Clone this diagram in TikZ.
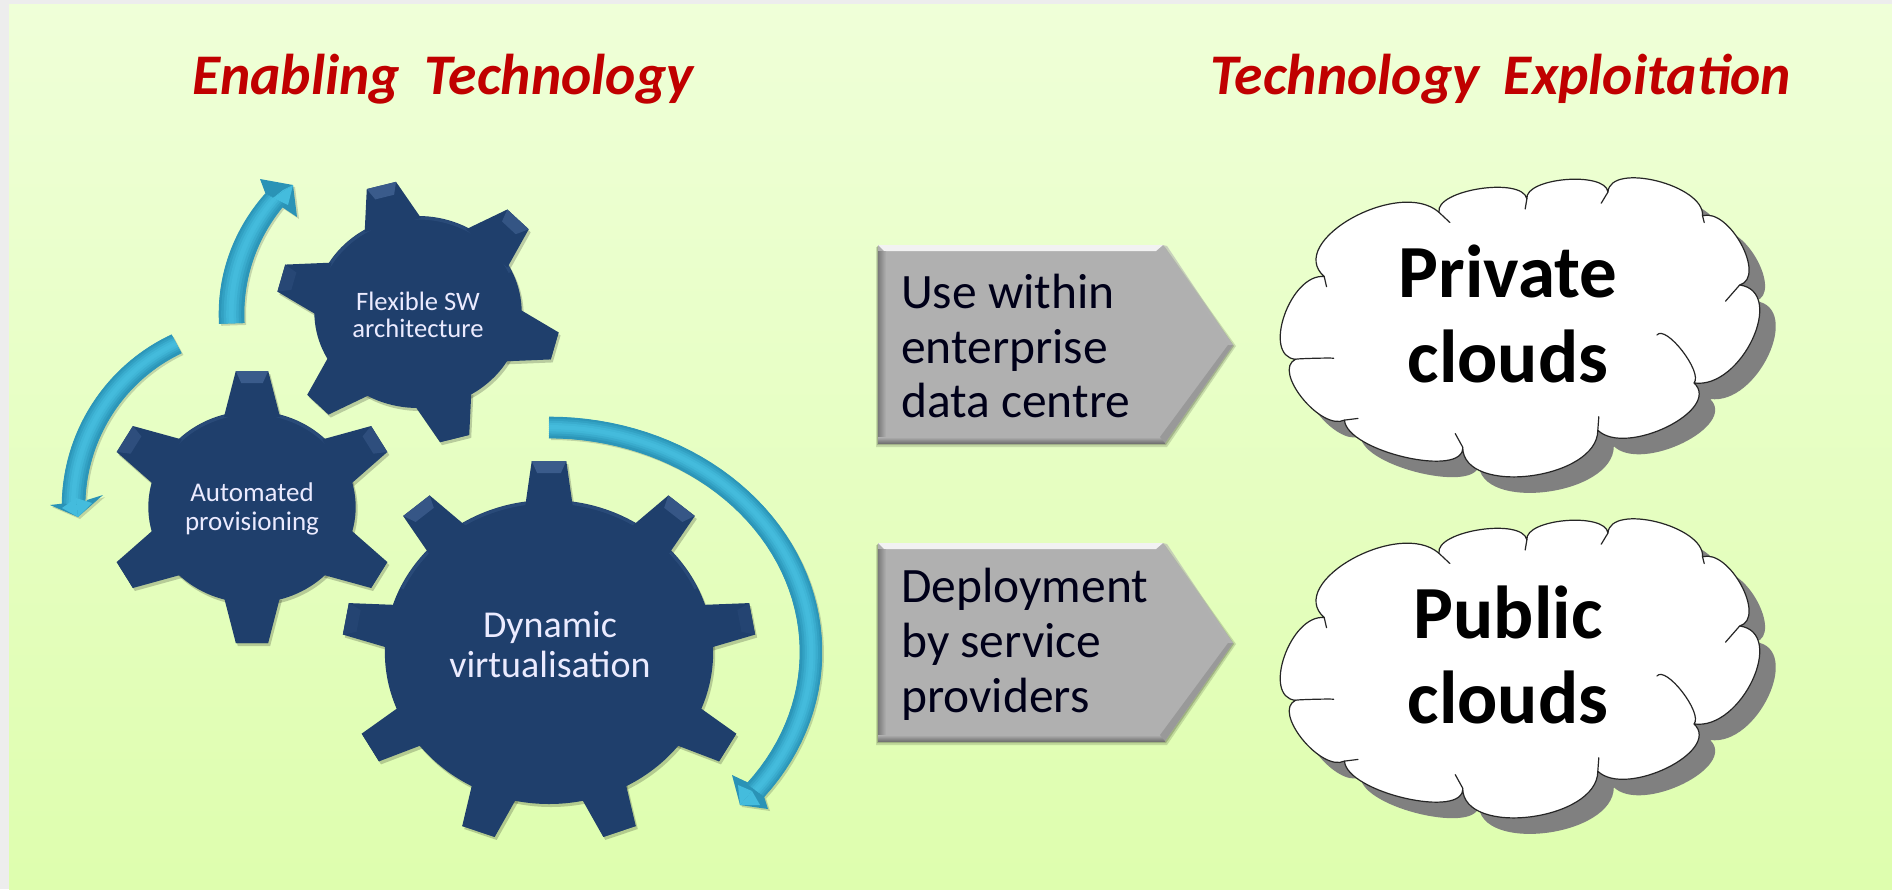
\documentclass[tikz,border=0pt]{standalone}
\usepackage{fontspec}
\setmainfont{Carlito}
\usetikzlibrary{calc}
\definecolor{gearblue}{HTML}{1F3F6C}
\definecolor{gearlight}{HTML}{3A5B8B}
\definecolor{geardark}{HTML}{1A355E}
\definecolor{arrowteal}{HTML}{2A93B6}
\definecolor{teallight}{HTML}{44BCDD}
\definecolor{titlered}{HTML}{C00000}
\definecolor{pentagray}{HTML}{B0B0B0}
\definecolor{cloudshadow}{HTML}{808080}
\definecolor{bgtop}{HTML}{EFFFD8}
\definecolor{bgbot}{HTML}{DEFEAE}
\newcommand{\pxfont}[2]{\fontsize{#1}{#2}\selectfont}
\newcommand{\wsp}{\hspace{0.2em}}
\tikzset{
  titletext/.style={text=titlered,font=\pxfont{57.5}{60}\bfseries\itshape,inner sep=0pt},
  geartext/.style={text=white!92!blue,align=center,inner sep=0pt},
  pentatext/.style={text=black!90!blue,align=left,anchor=west,inner sep=0pt,font=\pxfont{49.5}{54.8}},
  cloudtext/.style={text=black,align=center,inner sep=0pt,font=\pxfont{75}{85}\bfseries},
  cloudline/.style={draw=black!85,line width=1.2pt},
}
\newcommand{\gearteeth}[8]{%
  \pgfmathsetmacro{\gst}{360/#5}%
  \pgfmathtruncatemacro{\gnn}{#5-1}%
  \foreach \gk in {0,...,\gnn}{%
    \pgfmathsetmacro{\ga}{#6-\gk*\gst}%
    \pgfmathsetmacro{\gbase}{#3-6}%
    \fill[#8] ({#1+\gsx*(\gbase*cos(\ga)+#7*sin(\ga))},{#2-\gbase*sin(\ga)+#7*cos(\ga)})
      -- ({#1+\gsx*(#4*cos(\ga)+\tiphalf*sin(\ga))},{#2-#4*sin(\ga)+\tiphalf*cos(\ga)})
      -- ({#1+\gsx*(#4*cos(\ga)-\tiphalf*sin(\ga))},{#2-#4*sin(\ga)-\tiphalf*cos(\ga)})
      -- ({#1+\gsx*(\gbase*cos(\ga)-#7*sin(\ga))},{#2-\gbase*sin(\ga)-#7*cos(\ga)}) -- cycle;
  }%
}
\newcommand{\gearbevel}[7]{%
  \pgfmathsetmacro{\gst}{360/#5}%
  \pgfmathtruncatemacro{\gnn}{#5-1}%
  \foreach \gk in {0,...,\gnn}{%
    \pgfmathsetmacro{\ga}{#6-\gk*\gst}%
    \pgfmathtruncatemacro{\gm}{max(0,min(100,110*sin(\ga)))}%
    \pgfmathsetmacro{\gri}{#4-12}%
    \pgfmathsetmacro{\gwi}{\tiphalf-5}%
    \fill[gearlight!\gm!gearblue] ({#1+\gsx*(\gri*cos(\ga)+\gwi*sin(\ga))},{#2-\gri*sin(\ga)+\gwi*cos(\ga)})
      -- ({#1+\gsx*(#4*cos(\ga)+\tiphalf*sin(\ga))},{#2-#4*sin(\ga)+\tiphalf*cos(\ga)})
      -- ({#1+\gsx*(#4*cos(\ga)-\tiphalf*sin(\ga))},{#2-#4*sin(\ga)-\tiphalf*cos(\ga)})
      -- ({#1+\gsx*(\gri*cos(\ga)-\gwi*sin(\ga))},{#2-\gri*sin(\ga)-\gwi*cos(\ga)}) -- cycle;
  }%
}
\newcommand{\drawgear}[8]{%
  \def\tiphalf{#8}%
  \def\gsx{1.08}%
  \begin{scope}[shift={(2,3)},opacity=.2]
    \fill[black] (#1,#2) ellipse[x radius={1.08*(#3)},y radius=#3];
    \gearteeth{#1}{#2}{#3}{#4}{#5}{#6}{#7}{black}
  \end{scope}
  \fill[gearblue] (#1,#2) ellipse[x radius={1.08*(#3)},y radius=#3];
  \draw[gearlight,line width=3pt,opacity=.4] ({#1+1.08*(#3-2)*cos(25)},{#2-(#3-2)*sin(25)}) arc[start angle=-25,end angle=-155,x radius={1.08*(#3-2)},y radius={#3-2}];
  \gearteeth{#1}{#2}{#3}{#4}{#5}{#6}{#7}{gearblue}
  \gearbevel{#1}{#2}{#3}{#4}{#5}{#6}{#7}
}
\newcommand{\lobe}[6]{.. controls ({(#1)/3+4*(#3)/3-2*(#5)/3},{(#2)/3+4*(#4)/3-2*(#6)/3}) and ({(#5)/3+4*(#3)/3-2*(#1)/3},{(#6)/3+4*(#4)/3-2*(#2)/3}) .. (#5,#6)}
\newcommand{\cloudoutline}{(190,345)
  \lobe{190}{345}{272}{172}{530}{155}
  \lobe{530}{155}{650}{85}{790}{115}
  \lobe{790}{115}{905}{58}{1030}{95}
  \lobe{1030}{95}{1175}{62}{1310}{165}
  \lobe{1310}{165}{1425}{250}{1420}{370}
  \lobe{1420}{370}{1458}{530}{1285}{660}
  \lobe{1285}{660}{1205}{790}{1000}{800}
  \lobe{1000}{800}{800}{935}{600}{850}
  \lobe{600}{850}{430}{880}{250}{770}
  \lobe{250}{770}{125}{705}{105}{590}
  \lobe{105}{590}{72}{460}{190}{345} -- cycle}
\newcommand{\drawcloud}[2]{%
  \begin{scope}[shift={(#1+16,#2+16)},x=0.3378pt,y=-0.3378pt]
    \fill[cloudshadow] \cloudoutline;
  \end{scope}
  \begin{scope}[shift={(#1,#2)},x=0.3378pt,y=-0.3378pt]
    \fill[white] \cloudoutline;
    \draw[cloudline,line join=round] \cloudoutline;
    \draw[cloudline,line cap=round] (190,345) -- (197,375);
    \draw[cloudline,line cap=round] (530,155) -- (562,185);
    \draw[cloudline,line cap=round] (790,115) -- (785,145);
    \draw[cloudline,line cap=round] (1030,95) -- (1010,128);
    \draw[cloudline,line cap=round] (1310,165) -- (1315,185);
    \draw[cloudline,line cap=round] (1420,370) -- (1378,418);
    \draw[cloudline,line cap=round] (1285,660) \lobe{1285}{660}{1250}{565}{1175}{518};
    \draw[cloudline,line cap=round] (1000,800) -- (1003,760);
    \draw[cloudline,line cap=round] (600,850) -- (578,810);
    \draw[cloudline,line cap=round] (250,770) -- (290,765);
    \draw[cloudline,line cap=round] (105,590) \lobe{105}{590}{160}{587}{218}{587};
  \end{scope}
}
\newcommand{\drawpenta}[1]{%
  \begin{scope}[shift={(0,#1)}]
    \fill[black,opacity=.14] (876,247) -- (1165,247) -- (1236,346) -- (1167,447) -- (876,447) -- cycle;
    \fill[black,opacity=.18] (877,246) -- (1164,246) -- (1234,346) -- (1166,445) -- (877,445) -- cycle;
    \fill[pentagray] (878,245) -- (1163,245) -- (1233,345) -- (1165,443) -- (878,443) -- cycle;
    \fill[white!90!gray] (878,245) -- (1163,245) -- (1156,251) -- (884,251) -- cycle;
    \shade[left color=black!52,right color=pentagray] (878,251) rectangle (886,438);
    \shade[top color=pentagray,bottom color=black!55] (878,437) rectangle (1165,443);
    \fill[black!40] (1165,443) -- (1160,437) -- (1228,345) -- (1233,345) -- cycle;
    \fill[black!30,opacity=.6] (1163,245) -- (1167,246) -- (1233,345) -- (1229,345) -- cycle;
  \end{scope}
}
\newcommand{\bandarrow}[9]{%
  \begin{scope}[shift={(2,2)}]
  \fill[black,opacity=.16] plot[domain=#7:#8,samples=50] ({#1+(#3)*cos(\x)},{#2-(#4)*sin(\x)}) -- #9 -- plot[domain=#8:#7,samples=50] ({#1+(#5)*cos(\x)},{#2-(#6)*sin(\x)}) -- cycle;
  \end{scope}
  \fill[arrowteal] plot[domain=#7:#8,samples=50] ({#1+(#3)*cos(\x)},{#2-(#4)*sin(\x)}) -- #9 -- plot[domain=#8:#7,samples=50] ({#1+(#5)*cos(\x)},{#2-(#6)*sin(\x)}) -- cycle;
  \foreach \bf in {0.05,0.15,...,0.96}{%
    \pgfmathtruncatemacro{\bm}{100*sin(180*\bf)^1.4}%
    \pgfmathsetmacro{\brx}{(#3)+\bf*((#5)-(#3))}%
    \pgfmathsetmacro{\bry}{(#4)+\bf*((#6)-(#4))}%
    \pgfmathsetmacro{\bw}{0.1*((#3)-(#5))+0.6}%
    \draw[teallight!\bm!arrowteal,line width=\bw pt] plot[domain=#7:#8,samples=50] ({#1+\brx*cos(\x)},{#2-\bry*sin(\x)});
  }%
}
\begin{document}
\begin{tikzpicture}[x=1pt,y=-1pt]
\useasboundingbox (0,0) rectangle (1892,889);
\fill[white!93!black] (0,0) rectangle (1892,889);
\shade[top color=bgtop,bottom color=bgbot] (9,4) rectangle (1892,889);

\node[titletext] (t1) at (443,79) {Enabling \wsp Technology};
\node[titletext] (t2) at (1501,79) {Technology \wsp Exploitation};

\bandarrow{418}{314}{199}{187}{174}{171}{183}{140}{(260,179) -- (293,185) -- (297,217) -- (282,207)}
\fill[teallight] (273,198) -- (293,185) -- (283,190) -- cycle;
\fill[teallight] (273,198) -- (293,185) -- (288,205) -- cycle;
\bandarrow{252}{507}{190}{190}{167}{170}{115}{179}{(50,505) -- (78,517) -- (103,495) -- (87,500)}
\fill[teallight] (76,498) -- (78,517) -- (62,508) -- cycle;
\fill[teallight] (76,498) -- (78,517) -- (92,503) -- cycle;
\bandarrow{549}{652}{273}{235}{251}{214}{90}{-38}{(768,809) -- (740,805) -- (732,775) -- (749,783)}
\fill[teallight] (752,791) -- (740,805) -- (738,785) -- cycle;
\fill[teallight] (752,791) -- (740,805) -- (760,805) -- cycle;

\drawgear{418}{312}{96}{131}{6}{105}{27}{14}
\drawgear{252}{507}{96}{136}{6}{90}{26}{15}
\drawgear{549}{652}{152}{191}{9}{90}{22}{16}
\node[geartext,font=\pxfont{26.6}{27.7}] (g1) at (418,315) {Flexible SW\\architecture};
\node[geartext,font=\pxfont{27}{29}] (g2) at (252,509) {Automated\\provisioning};
\node[geartext,font=\pxfont{38}{40}] (g3) at (550,645) {Dynamic\\virtualisation};

\drawpenta{0}
\drawpenta{298}
\node[pentatext] (p1) at (901,346) {Use within\\enterprise\\data centre};
\node[pentatext] (p2) at (901,644) {Deployment\\by service\\providers};

\drawcloud{1260}{160}
\drawcloud{1260}{501}
\node[cloudtext] (c1) at (1508,314) {Private\\clouds};
\node[cloudtext] (c2) at (1508,655) {Public\\clouds};
\end{tikzpicture}
\end{document}
